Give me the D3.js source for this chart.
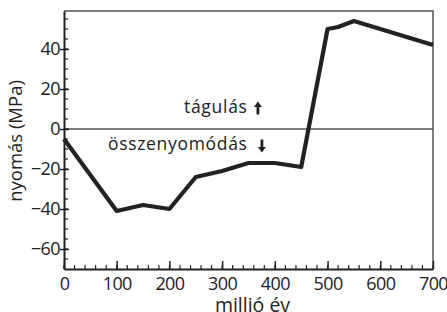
<!DOCTYPE html>
<html>
<head>
<meta charset="utf-8">
<script src="https://cdn.jsdelivr.net/npm/d3@7"></script>
<style>
  body { margin: 0; background: #fff; }
  svg text { font-family: "Open Sans", "Noto Sans", sans-serif; fill: #222; }
</style>
</head>
<body>
<svg id="chart" width="447" height="312"></svg>
<script>
// data
const years = [0, 100, 150, 200, 250, 300, 350, 400, 450, 500, 520, 550, 600, 650, 700];
const pressure = [-5, -41, -38, -40, -24, -21, -17, -17, -19, 50, 51, 54, 50, 46, 42];
const xTicks = [0, 100, 200, 300, 400, 500, 600, 700];
const yTicks = [-60, -40, -20, 0, 20, 40];

const svg = d3.select("#chart");
const margin = { top: 11, right: 14, bottom: 43, left: 64 };
const width = 447 - margin.left - margin.right;
const height = 312 - margin.top - margin.bottom;

const x = d3.scaleLinear().domain([0, 700]).range([0, width]);
const y = d3.scaleLinear().domain([-70, 59]).range([height, 0]);

const g = svg.append("g")
    .attr("transform", `translate(${margin.left},${margin.top})`);

//frame top and right
g.append("path")
    .attr("d", `M0,0H${width}V${height}`)
    .attr("fill", "none")
    .attr("stroke", "#555")
    .attr("stroke-width", 1.5);

//zero line
g.append("line")
    .attr("x1", 0).attr("x2", width)
    .attr("y1", y(0)).attr("y2", y(0))
    .attr("stroke", "#555")
    .attr("stroke-width", 1.5);

//minor ticks
g.selectAll(".xminor")
    .data(d3.range(0, 701, 20))
    .enter().append("line")
    .attr("x1", d => x(d)).attr("x2", d => x(d))
    .attr("y1", height).attr("y2", height - 4)
    .attr("stroke", "#222").attr("stroke-width", 1.2);

g.selectAll(".yminor")
    .data(d3.range(-65, 56, 5))
    .enter().append("line")
    .attr("x1", 0).attr("x2", 4)
    .attr("y1", d => y(d)).attr("y2", d => y(d))
    .attr("stroke", "#222").attr("stroke-width", 1.2);

//x-axis
const xAxis = g.append("g")
    .attr("transform", `translate(0,${height})`)
    .call(d3.axisBottom(x).tickValues(xTicks).tickSizeInner(-8).tickSizeOuter(0).tickPadding(8));

//y-axis
const yAxis = g.append("g")
    .call(d3.axisLeft(y).tickValues(yTicks).tickSizeInner(4).tickSizeOuter(0).tickPadding(0));

[xAxis, yAxis].forEach(a => {
    a.select(".domain").attr("stroke", "#222").attr("stroke-width", 2);
    a.selectAll(".tick line").attr("stroke", "#222").attr("stroke-width", 1.5);
    a.selectAll(".tick text")
        .style("font-family", "'Open Sans', sans-serif")
        .style("font-size", "18px")
        .style("letter-spacing", "-0.6px")
        .attr("fill", "#222");
});
yAxis.selectAll(".tick line").attr("x2", 5).attr("x1", -4);

//the pressure curve
g.append("path")
    .datum(years.map((d, i) => [d, pressure[i]]))
    .attr("fill", "none")
    .attr("stroke", "#222")
    .attr("stroke-width", 4.2)
    .attr("stroke-linejoin", "round")
    .attr("d", d3.line().x(d => x(d[0])).y(d => y(d[1])));

//annotations, right aligned
const up = g.append("text")
    .attr("x", x(347))
    .attr("y", y(8))
    .attr("text-anchor", "end")
    .attr("textLength", 63)
    .attr("lengthAdjust", "spacing")
    .style("font-size", "17.5px")
    .text("tágulás");

const down = g.append("text")
    .attr("x", x(347))
    .attr("y", y(-10.5))
    .attr("text-anchor", "end")
    .attr("textLength", 139)
    .attr("lengthAdjust", "spacing")
    .style("font-size", "17.5px")
    .text("összenyomódás");

//arrows next to the annotations
function arrow(ax, ay, dir) {
    const p = d3.path();
    p.moveTo(ax, ay - 6.5 * dir);
    p.lineTo(ax - 4, ay - 1 * dir);
    p.lineTo(ax - 1.4, ay - 1 * dir);
    p.lineTo(ax - 1.4, ay + 6.5 * dir);
    p.lineTo(ax + 1.4, ay + 6.5 * dir);
    p.lineTo(ax + 1.4, ay - 1 * dir);
    p.lineTo(ax + 4, ay - 1 * dir);
    p.closePath();
    g.append("path").attr("d", p.toString()).attr("fill", "#222");
}
arrow(x(347) + 11, y(8) - 5, 1);
arrow(x(347) + 15, y(-10.5) - 4, -1);

//axis labels
svg.append("text")
    .attr("x", margin.left + x(350) + 4)
    .attr("y", 312)
    .attr("text-anchor", "middle")
    .style("font-size", "19.5px")
    .text("millió év");

svg.append("text")
    .attr("transform", "rotate(-90)")
    .attr("x", -141)
    .attr("y", 22)
    .attr("text-anchor", "middle")
    .style("font-size", "18.5px")
    .text("nyomás (MPa)");
</script>
</body>
</html>
